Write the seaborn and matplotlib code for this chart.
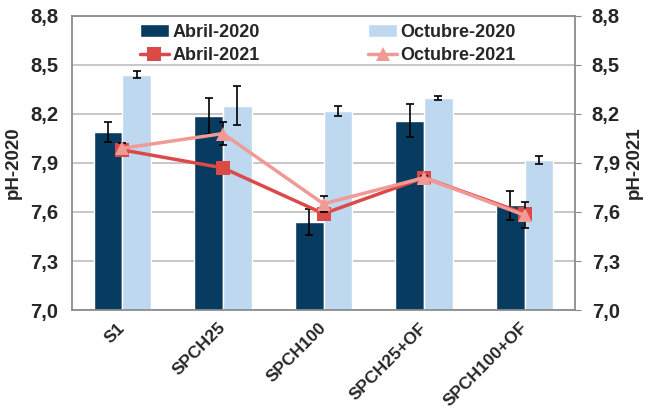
import numpy as np
import pandas as pd
import seaborn as sns
import matplotlib.pyplot as plt

# data
categories = ["S1", "SPCH25", "SPCH100", "SPCH25+OF", "SPCH100+OF"]
abril_2020 = [8.09, 8.19, 7.54, 8.16, 7.64]
abril_2020_err = [0.06, 0.11, 0.08, 0.10, 0.09]
octubre_2020 = [8.44, 8.25, 8.22, 8.30, 7.92]
octubre_2020_err = [0.02, 0.12, 0.03, 0.013, 0.025]
abril_2021 = [7.98, 7.87, 7.59, 7.81, 7.59]
octubre_2021 = [7.99, 8.08, 7.65, 7.81, 7.58]
octubre_2021_err = [0.03, 0.07, 0.05, 0.01, 0.08]
yticks = [7.0, 7.3, 7.6, 7.9, 8.2, 8.5, 8.8]
ytick_labels = ["7,0", "7,3", "7,6", "7,9", "8,2", "8,5", "8,8"]

c_abr20 = "#073b5f"
c_oct20 = "#bed8f0"
c_abr21 = "#dc4a48"
c_oct21 = "#f09a95"

sns.set_style("white")
plt.rcParams["font.family"] = ["Liberation Sans", "DejaVu Sans"]
plt.rcParams["font.weight"] = "bold"

bars = pd.DataFrame({
    "cat": categories * 2,
    "pH": abril_2020 + octubre_2020,
    "serie": ["Abril-2020"] * 5 + ["Octubre-2020"] * 5,
})

fig = plt.figure(figsize=(6.45, 4.09), dpi=100)
ax = fig.add_axes([0.1116, 0.242, 0.78, 0.719])

bar_w = 0.57
sns.barplot(data=bars, x="cat", y="pH", hue="serie", order=categories,
            palette=[c_abr20, c_oct20], width=bar_w, gap=0, errorbar=None,
            ax=ax, zorder=2, saturation=1)

x = np.arange(len(categories))
ekw = dict(fmt="none", ecolor="black", elinewidth=1.2, capsize=3, capthick=1.2)
ax.errorbar(x - bar_w / 4, abril_2020, yerr=abril_2020_err, zorder=3, **ekw)
ax.errorbar(x + bar_w / 4, octubre_2020, yerr=octubre_2020_err, zorder=3, **ekw)

ax.set_ylim(7.0, 8.8)
ax.set_xlim(-0.5, len(categories) - 0.5)
ax.set_yticks(yticks)
ax.set_yticklabels(ytick_labels, fontsize=14.5, fontweight="bold")
ax.yaxis.grid(True, color="#bdbdbd", linewidth=1.2)
ax.set_axisbelow(True)
ax.set_xlabel("")
ax.set_ylabel("pH-2020", fontsize=13.5, fontweight="bold", labelpad=6)
ax.set_xticks(x)
ax.set_xticklabels(categories, rotation=45, ha="right", va="center",
                   rotation_mode="anchor", fontsize=12.5, fontweight="bold")
ax.tick_params(axis="x", length=0, pad=11)
ax.tick_params(axis="y", length=0, pad=10)
for s in ax.spines.values():
    s.set_color("#8c8c8c")
    s.set_linewidth(1.3)
bar_handles, bar_labels = ax.get_legend_handles_labels()
ax.get_legend().remove()

ax2 = ax.twinx()
sns.lineplot(x=x, y=abril_2021, ax=ax2, color=c_abr21, marker="s",
             markersize=10, linewidth=2.5, markeredgewidth=0, label="Abril-2021")
ax2.errorbar(x, octubre_2021, yerr=octubre_2021_err, **ekw)
sns.lineplot(x=x, y=octubre_2021, ax=ax2, color=c_oct21, marker="^",
             markersize=10, linewidth=2.5, markeredgewidth=0, label="Octubre-2021")
ax2.set_ylim(7.0, 8.8)
ax2.set_yticks(yticks)
ax2.set_yticklabels(ytick_labels, fontsize=14.5, fontweight="bold")
ax2.tick_params(axis="y", length=4, color="#8c8c8c", pad=8)
ax2.set_ylabel("pH-2021", fontsize=13.5, fontweight="bold", labelpad=4)
for s in ax2.spines.values():
    s.set_visible(False)

line_handles, line_labels = ax2.get_legend_handles_labels()
handles = [bar_handles[0], line_handles[0], bar_handles[1], line_handles[1]]
labels = [bar_labels[0], line_labels[0], bar_labels[1], line_labels[1]]
ax2.legend(handles, labels, ncol=2, frameon=False, loc="upper left",
           bbox_to_anchor=(0.135, 0.973), prop={"size": 13, "weight": "bold"},
           borderpad=0, borderaxespad=0,
           columnspacing=6.0, handlelength=1.6, handletextpad=0.2,
           labelspacing=0.35)

plt.savefig("out.png", dpi=100)
plt.close()
